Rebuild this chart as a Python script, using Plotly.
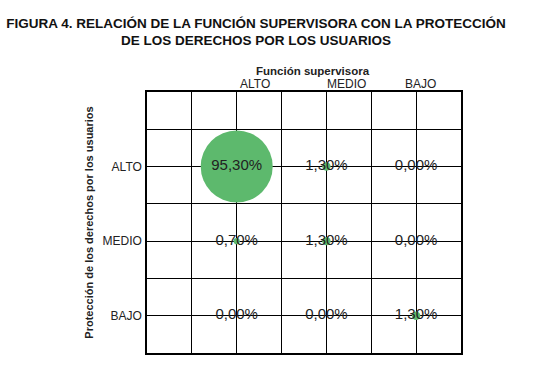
import plotly.graph_objects as go

col_labels = ["ALTO", "MEDIO", "BAJO"]
row_labels = ["ALTO", "MEDIO", "BAJO"]
# values[row][col] in %
values = [
    [95.30, 1.30, 0.00],
    [0.70, 1.30, 0.00],
    [0.00, 0.00, 1.30],
]
col_pos = [2, 4, 6]
row_pos = [5, 3, 1]

xs, ys, vs, ts = [], [], [], []
for ri, r in enumerate(row_pos):
    for ci, c in enumerate(col_pos):
        v = values[ri][ci]
        xs.append(c)
        ys.append(r)
        vs.append(v)
        ts.append(f"{v:.2f}%".replace(".", ","))

max_d = 72
sizeref = 2.0 * max(vs) / (max_d ** 2)

font_fam = "Arial, Liberation Sans, sans-serif"

fig = go.Figure()
fig.add_trace(go.Scatter(
    x=xs, y=ys, mode="markers+text", text=ts,
    textposition="middle center",
    textfont=dict(family=font_fam, size=15, color="#222222"),
    marker=dict(size=vs, sizemode="area", sizeref=sizeref, sizemin=0,
                color="#5DB96D", line=dict(width=0), opacity=1),
    hoverinfo="skip", showlegend=False, cliponaxis=False,
))

axis_common = dict(
    showline=True, linecolor="black", linewidth=1.5, mirror=True,
    showgrid=True, gridcolor="black", gridwidth=1,
    zeroline=False, ticks="", range=[0, 7], fixedrange=True,
    automargin=False,
    minor=dict(dtick=1, tick0=0, showgrid=True, gridcolor="black", gridwidth=1),
)

fig.update_xaxes(**axis_common, tickvals=col_pos, showticklabels=False)
fig.update_yaxes(**axis_common, tickvals=row_pos, ticktext=row_labels,
                 tickfont=dict(family=font_fam, size=12, color="#222222"),
                 ticklabelstandoff=1,
                 title=dict(text="<b>Protección de los derechos por los usuarios</b>",
                            font=dict(family=font_fam, size=11, color="#222222"),
                            standoff=7))

# top column header labels
label_x = [2.4, 4.45, 6.1]
for lx, lab in zip(label_x, col_labels):
    fig.add_annotation(x=lx, y=1, xref="x", yref="paper", yanchor="bottom",
                       yshift=-1, text=lab, showarrow=False,
                       font=dict(family=font_fam, size=12, color="#222222"))
fig.add_annotation(x=3.7, y=1, xref="x", yref="paper", yanchor="bottom",
                   yshift=13, text="<b>Función supervisora</b>", showarrow=False,
                   font=dict(family=font_fam, size=11.5, color="#222222"))

fig.update_layout(
    width=539, height=372,
    margin=dict(l=147, r=78, t=92, b=19),
    paper_bgcolor="white", plot_bgcolor="white",
    title=dict(text="<b>FIGURA 4. RELACIÓN DE LA FUNCIÓN SUPERVISORA CON LA PROTECCIÓN<br>DE LOS DERECHOS POR LOS USUARIOS</b>",
               x=0.475, xanchor="center", y=0.925, yanchor="top",
               font=dict(family=font_fam, size=13.5, color="#111111")),
)

fig.write_html("out.html", post_script="document.body.style.margin='0';",
               config={"displayModeBar": False})
